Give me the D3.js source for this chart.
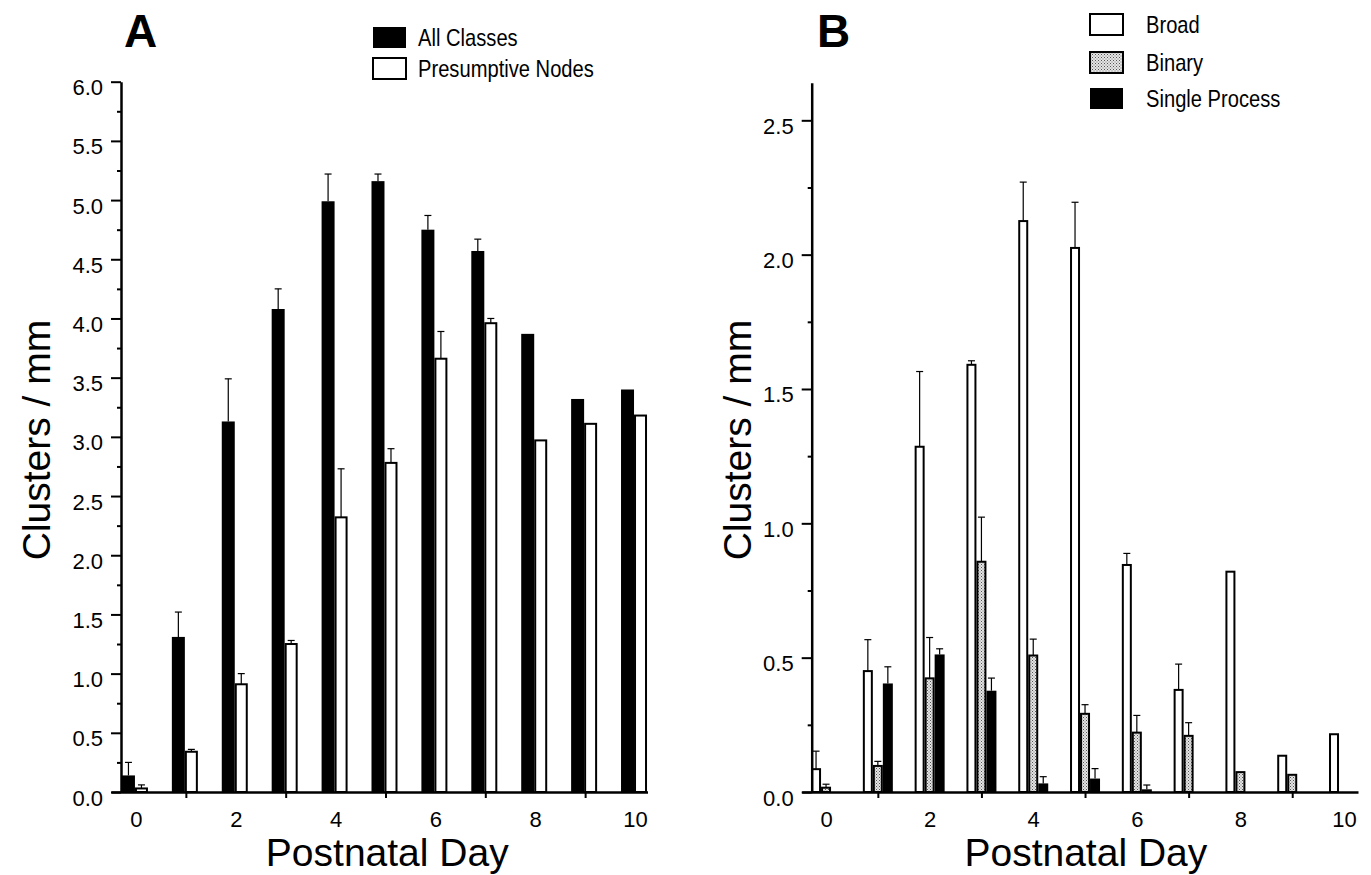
<!DOCTYPE html>
<html>
<head>
<meta charset="utf-8">
<script src="https://cdn.jsdelivr.net/npm/d3@7"></script>
<style>
  body { margin: 0; background: #fff; }
  svg { font-family: "Liberation Sans", Arial, Helvetica, sans-serif; }
</style>
</head>
<body>
<div id="chart"></div>
<script>
const days = [0, 1, 2, 3, 4, 5, 6, 7, 8, 9, 10];

// Panel A
const allClasses      = [0.14, 1.31, 3.13, 4.08, 4.99, 5.16, 4.75, 4.57, 3.87, 3.32, 3.40];
const allClassesErr   = [0.11, 0.21, 0.36, 0.17, 0.23, 0.06, 0.12, 0.10, 0, 0, 0];
const presumptive     = [0.03, 0.34, 0.91, 1.25, 2.32, 2.78, 3.66, 3.96, 2.97, 3.11, 3.18];
const presumptiveErr  = [0.03, 0.02, 0.09, 0.03, 0.41, 0.12, 0.23, 0.04, 0, 0, 0];
const yTicksA = [0, 0.5, 1, 1.5, 2, 2.5, 3, 3.5, 4, 4.5, 5, 5.5, 6];

// Panel B
const broad      = [0.085, 0.45, 1.285, 1.59, 2.125, 2.025, 0.845, 0.38, 0.82, 0.135, 0.215];
const broadErr   = [0.067, 0.117, 0.28, 0.015, 0.145, 0.17, 0.043, 0.096, 0, 0, 0];
const binary     = [0.016, 0.097, 0.423, 0.857, 0.508, 0.291, 0.221, 0.209, 0.074, 0.064, 0];
const binaryErr  = [0.013, 0.017, 0.152, 0.166, 0.061, 0.034, 0.064, 0.049, 0, 0, 0];
const single     = [0, 0.404, 0.512, 0.377, 0.032, 0.05, 0.01, 0, 0, 0, 0];
const singleErr  = [0, 0.062, 0.021, 0.047, 0.025, 0.037, 0.016, 0, 0, 0, 0];
const yTicksB = [0, 0.5, 1, 1.5, 2, 2.5];

const labelDays = [0, 2, 4, 6, 8, 10];
const tickDays = [1, 3, 5, 7, 9];

const svg = d3.select("#chart")
  .append("svg")
  .attr("width", 1371)
  .attr("height", 875);

// stipple fill for "Binary"
const pat = svg.append("defs").append("pattern")
  .attr("id", "stipple")
  .attr("width", 3).attr("height", 3)
  .attr("patternUnits", "userSpaceOnUse");
pat.append("rect").attr("width", 3).attr("height", 3).attr("fill", "#e4e4e4");
pat.append("rect").attr("width", 1).attr("height", 1).attr("fill", "#555");
pat.append("rect").attr("x", 1.5).attr("y", 1.5).attr("width", 1).attr("height", 1).attr("fill", "#777");

function drawPanel(cfg) {
  const g = svg.append("g");
  const x = d3.scaleLinear().domain(cfg.xDomain).range(cfg.xRange);
  const y = d3.scaleLinear().domain(cfg.yDomain).range([792, cfg.yTop]);
  const sub = d3.scaleBand().domain(cfg.series.map(s => s.key)).range(cfg.subRange);

  // bars
  cfg.series.forEach(s => {
    const rows = days.map((d, i) => ({ d, v: s.values[i], e: s.err[i] })).filter(r => r.v > 0);
    const inset = s.outline ? 1 : 0;
    g.append("g").selectAll("rect")
      .data(rows)
      .join("rect")
      .attr("x", r => x(r.d) + sub(s.key) + inset)
      .attr("width", sub.bandwidth() - 2 * inset)
      .attr("y", r => y(r.v))
      .attr("height", r => y(0) - y(r.v))
      .attr("fill", s.fill)
      .attr("stroke", s.outline ? "#000" : "none")
      .attr("stroke-width", 2);

    const eb = g.append("g").attr("stroke", "#000").attr("stroke-width", 1.2);
    rows.filter(r => r.e > 0).forEach(r => {
      const cx = x(r.d) + sub(s.key) + sub.bandwidth() / 2;
      eb.append("line").attr("x1", cx).attr("x2", cx)
        .attr("y1", y(r.v)).attr("y2", y(r.v + r.e));
      eb.append("line").attr("x1", cx - 3.5).attr("x2", cx + 3.5)
        .attr("y1", y(r.v + r.e)).attr("y2", y(r.v + r.e));
    });
  });

  // y axis
  const yAxis = g.append("g")
    .attr("transform", `translate(${cfg.xRange[0] + 10},0)`)
    .call(d3.axisLeft(y).tickValues(cfg.yTicks).tickFormat(d3.format(".1f"))
      .tickSize(10).tickSizeOuter(0));
  yAxis.select(".domain").attr("stroke-width", 2.5);
  yAxis.selectAll(".tick line").attr("stroke-width", 2);
  yAxis.selectAll(".tick text")
    .attr("x", -18).attr("dy", null).attr("y", 13)
    .attr("font-size", 22).attr("fill", "#000")
    .attr("font-family", "Liberation Sans, Arial, sans-serif");

  const minor = cfg.yTicks.slice(0, -1).map(t => t + 0.25);
  if (cfg.yDomain[1] > cfg.yTicks[cfg.yTicks.length - 1] + 0.2) minor.push(cfg.yTicks[cfg.yTicks.length - 1] + 0.25);
  g.append("g")
    .attr("transform", `translate(${cfg.xRange[0] + 10},0)`)
    .call(d3.axisLeft(y).tickValues(minor.filter(t => t <= cfg.yDomain[1])).tickFormat("")
      .tickSize(4).tickSizeOuter(0))
    .call(a => a.select(".domain").remove())
    .selectAll(".tick line").attr("stroke-width", 2);

  // x axis
  const xAxis = g.append("g")
    .attr("transform", "translate(0,792)")
    .call(d3.axisBottom(x).tickValues(tickDays).tickFormat("").tickSize(6).tickSizeOuter(0));
  xAxis.select(".domain").attr("stroke-width", 2.5);
  xAxis.selectAll(".tick line").attr("stroke-width", 2);

  g.append("g")
    .attr("transform", "translate(0,792)")
    .call(d3.axisBottom(x).tickValues(labelDays).tickFormat(d3.format("d")).tickSize(0).tickPadding(19))
    .call(a => a.select(".domain").remove())
    .selectAll("text").attr("font-size", 22).attr("fill", "#000")
    .attr("font-family", "Liberation Sans, Arial, sans-serif");

  // titles
  const xMid = (cfg.xRange[0] + cfg.xRange[1]) / 2 + cfg.xTitleShift;
  g.append("text")
    .attr("x", xMid).attr("y", 866)
    .attr("text-anchor", "middle")
    .attr("font-size", 39)
    .text("Postnatal Day");

  g.append("text")
    .attr("transform", `translate(${cfg.yTitleX},440) rotate(-90)`)
    .attr("text-anchor", "middle")
    .attr("font-size", 39)
    .text("Clusters / mm");

  g.append("text")
    .attr("x", cfg.letterX).attr("y", 47)
    .attr("font-size", 46).attr("font-weight", "bold")
    .text(cfg.letter);

  // legend
  const leg = g.append("g").attr("transform", `translate(${cfg.legendX},0)`);
  cfg.series.forEach((s, i) => {
    const ly = cfg.legendY[i];
    leg.append("rect")
      .attr("x", 1).attr("y", ly + 1)
      .attr("width", 33).attr("height", 21)
      .attr("fill", s.fill)
      .attr("stroke", s.outline ? "#000" : "none")
      .attr("stroke-width", 2);
    leg.append("text")
      .attr("transform", `translate(${cfg.legendTextDx},${ly + 20}) scale(0.84,1)`)
      .attr("font-size", 24)
      .text(s.label);
  });
}

drawPanel({
  letter: "A", letterX: 124,
  xDomain: [-0.5, 10.25], xRange: [111, 647.5],
  yDomain: [0, 6], yTop: 81.7, yTicks: yTicksA,
  subRange: [-14, 12],
  series: [
    { key: "all", label: "All Classes", values: allClasses, err: allClassesErr, fill: "#000", outline: false },
    { key: "nodes", label: "Presumptive Nodes", values: presumptive, err: presumptiveErr, fill: "#fff", outline: true }
  ],
  xTitleShift: 8, yTitleX: 50,
  legendX: 372, legendY: [26, 57], legendTextDx: 46
});

drawPanel({
  letter: "B", letterX: 817,
  xDomain: [-0.47, 10.27], xRange: [801.7, 1358],
  yDomain: [0, 2.64], yTop: 82.7, yTicks: yTicksB,
  subRange: [-15, 15],
  series: [
    { key: "broad", label: "Broad", values: broad, err: broadErr, fill: "#fff", outline: true },
    { key: "binary", label: "Binary", values: binary, err: binaryErr, fill: "url(#stipple)", outline: true },
    { key: "single", label: "Single Process", values: single, err: singleErr, fill: "#000", outline: false }
  ],
  xTitleShift: 6, yTitleX: 751,
  legendX: 1089, legendY: [13, 51, 87], legendTextDx: 57
});
</script>
</body>
</html>
